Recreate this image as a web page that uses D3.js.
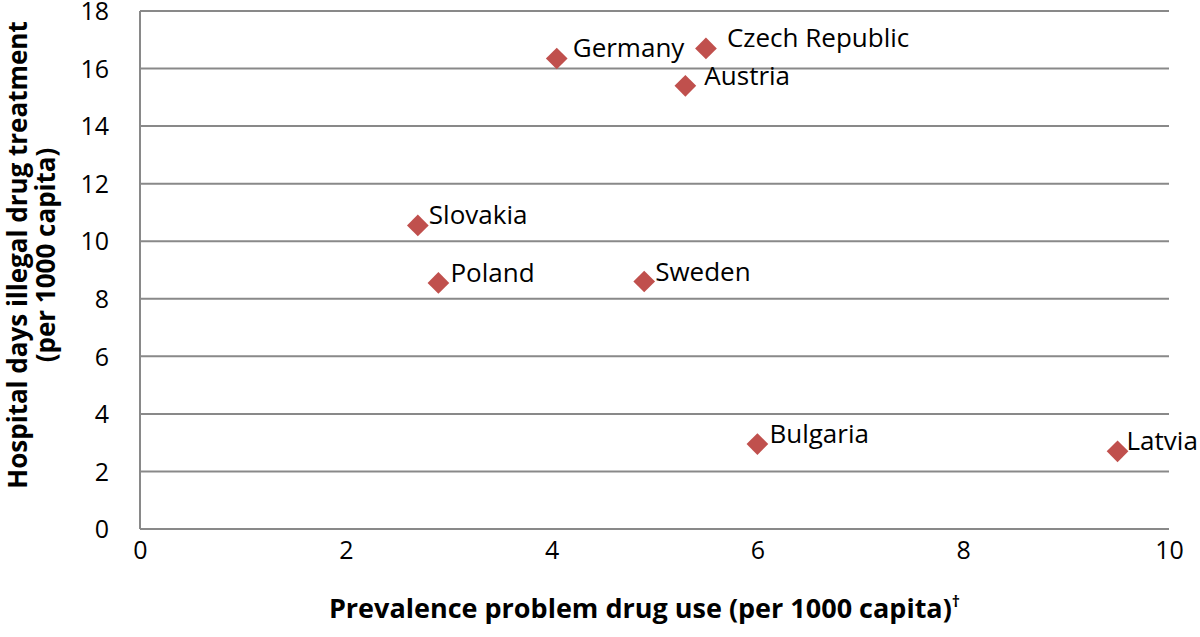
<!DOCTYPE html>
<html>
<head>
<meta charset="utf-8">
<script src="https://cdn.jsdelivr.net/npm/d3@7"></script>
<style>
  body { margin: 0; background: #fff; }
  text { font-family: "Open Sans", "Liberation Sans", sans-serif; fill: #000; }
</style>
</head>
<body>
<div id="chart"></div>
<script>
// data
const countries = ['Germany', 'Czech Republic', 'Austria', 'Slovakia', 'Poland', 'Sweden', 'Bulgaria', 'Latvia'];
const prevalence = [4.05, 5.5, 5.3, 2.7, 2.9, 4.9, 6.0, 9.5];
const hospitalDays = [16.35, 16.7, 15.4, 10.55, 8.55, 8.6, 2.95, 2.7];
const xTicks = [0, 2, 4, 6, 8, 10];
const yTicks = [0, 2, 4, 6, 8, 10, 12, 14, 16, 18];

// label nudges (px right of marker), excel places them a bit unevenly
const labelDx = { 'Germany': 16, 'Czech Republic': 21, 'Austria': 19, 'Slovakia': 11, 'Poland': 12, 'Sweden': 11, 'Bulgaria': 12, 'Latvia': 9 };

const width = 1200, height = 637;
const padding = { top: 11, bottom: 108, left: 140, right: 31 };
const chartWidth = width - padding.left - padding.right;
const chartHeight = height - padding.top - padding.bottom;

const svg = d3.select('#chart').append('svg')
  .attr('width', width)
  .attr('height', height);

const chart = svg.append('g')
  .attr('transform', `translate(${padding.left}, ${padding.top})`);

const x = d3.scaleLinear().domain([0, 10]).range([0, chartWidth]);
const y = d3.scaleLinear().domain([0, 18]).range([chartHeight, 0]);

const gridColor = '#898989';

// horizontal gridlines
chart.append('g')
  .selectAll('line')
  .data(yTicks)
  .join('line')
  .attr('x1', 0)
  .attr('x2', chartWidth)
  .attr('y1', d => y(d))
  .attr('y2', d => y(d))
  .attr('stroke', gridColor)
  .attr('stroke-width', 2);

// left axis line
chart.append('line')
  .attr('x1', 0).attr('x2', 0)
  .attr('y1', 0).attr('y2', chartHeight)
  .attr('stroke', gridColor)
  .attr('stroke-width', 2);

const yAxis = chart.append('g')
  .call(d3.axisLeft(y).tickValues(yTicks).tickSize(0).tickPadding(31));
yAxis.select('.domain').remove();
yAxis.selectAll('text')
  .style('font-size', '25px')
  .attr('dy', '0.35em');

const xAxis = chart.append('g')
  .attr('transform', `translate(0, ${chartHeight})`)
  .call(d3.axisBottom(x).tickValues(xTicks).tickSize(0).tickPadding(12));
xAxis.select('.domain').remove();
xAxis.selectAll('text')
  .style('font-size', '25px');

// markers
const pts = countries.map((c, i) => ({ name: c, px: prevalence[i], hd: hospitalDays[i] }));
const diamond = d3.symbol().type(d3.symbolDiamond2).size(300);

chart.append('g')
  .selectAll('path')
  .data(pts)
  .join('path')
  .attr('d', diamond)
  .attr('transform', d => `translate(${x(d.px)}, ${y(d.hd)})`)
  .attr('fill', '#C0504D');

chart.append('g')
  .selectAll('text')
  .data(pts)
  .join('text')
  .attr('x', d => x(d.px) + labelDx[d.name])
  .attr('y', d => y(d.hd) - 1)
  .style('font-size', '26px')
  .text(d => d.name);

// axis titles
svg.append('text')
  .attr('x', padding.left + chartWidth / 2 - 10)
  .attr('y', 618)
  .attr('text-anchor', 'middle')
  .style('font-size', '27px')
  .style('font-weight', 'bold')
  .html('Prevalence problem drug use (per 1000 capita)<tspan dy="-11" style="font-size:16px">†</tspan>');

const yTitle = svg.append('text')
  .attr('transform', `translate(0, 255) rotate(-90)`)
  .attr('text-anchor', 'middle')
  .style('font-size', '26px')
  .style('font-weight', 'bold');
yTitle.append('tspan').attr('x', 0).attr('y', 27).text('Hospital days illegal drug treatment');
yTitle.append('tspan').attr('x', 0).attr('y', 55).text('(per 1000 capita)');
</script>
</body>
</html>
